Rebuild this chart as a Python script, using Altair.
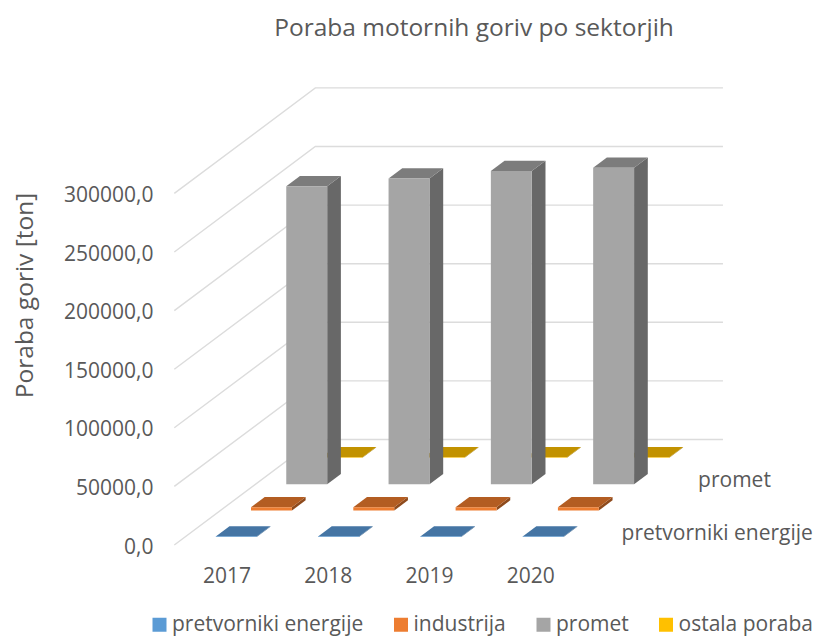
import altair as alt
import pandas as pd

# --- chart values -----------------------------------------------------------
years = [2017, 2018, 2019, 2020]
series = ["pretvorniki energije", "industrija", "promet", "ostala poraba"]
pretvorniki = [350, 350, 350, 350]
industrija = [2900, 2900, 2900, 2900]
promet = [254300, 260800, 267300, 269900]
ostala = [450, 450, 450, 450]
ticks = [0, 50000, 100000, 150000, 200000, 250000, 300000]
depth_labels = ["pretvorniki energije", "promet"]
values_by_series = [pretvorniki, industrija, promet, ostala]

front_cols = ["#5B9BD5", "#ED7D31", "#A5A5A5", "#FFC000"]
top_cols = ["#4575A4", "#B35D22", "#7C7C7C", "#C29200"]
side_cols = ["#3A6288", "#8E4A1C", "#686868", "#A07A00"]
FONT = "Open Sans"
TXT = "#595959"

# --- oblique 3D projection, expressed in scale units ------------------------
W, H = 806, 629
PX_CAT = 102.3
PX_TON = 58.6 / 50000
X0, Y0 = 174.3, 545
DEPTH_X = 141 / PX_CAT      # full depth of floor, in category units
DEPTH_Y = 105.5 / PX_TON    # full depth of floor, in tons
BAR_GAP, BAR_W = 0.30, 0.40
D_GAP, D_W = 0.0764, 0.0972
WALL = 3.985

x_scale = alt.Scale(domain=[(8 - X0) / PX_CAT, (814 - X0) / PX_CAT], nice=False, zero=False)
y_scale = alt.Scale(domain=[(Y0 - 637) / PX_TON, (Y0 - 8) / PX_TON], nice=False, zero=False)

x_axis = alt.Axis(
    values=[i * 0.99 + 0.51 for i in range(len(years))],
    labelExpr="'' + (%d + floor(datum.value))" % years[0],
    title=None, grid=False, domain=False, ticks=False, offset=-72,
    labelFont=FONT, labelFontSize=21, labelColor=TXT, labelPadding=0,
    labelFlush=False, labelOverlap=False,
)
y_axis = alt.Axis(
    values=ticks,
    labelExpr="format(datum.value, 'd') + ',0'",
    title="Poraba goriv [ton]", grid=False, domain=False, ticks=False, offset=-145,
    labelFont=FONT, labelFontSize=21, labelColor=TXT, labelPadding=0, labelOffset=2,
    titleFont=FONT, titleFontSize=24.5, titleColor=TXT, titleFontWeight="normal",
    titleAngle=270, titleX=-128, titleY=287, titleAlign="center", titleBaseline="middle",
    labelOverlap=False,
)


def px(c, d):
    return c + d * DEPTH_X


def py(v, d):
    return v + d * DEPTH_Y


X = lambda f="x": alt.X(f"{f}:Q", scale=x_scale, axis=x_axis)
Y = lambda f="y": alt.Y(f"{f}:Q", scale=y_scale, axis=y_axis)

# --- gridlines on the side and back walls -----------------------------------
grid_rows = []
for t in ticks:
    grid_rows += [
        {"t": t, "o": 0, "x": px(0, 0), "y": py(t, 0)},
        {"t": t, "o": 1, "x": px(0, 1), "y": py(t, 1)},
        {"t": t, "o": 2, "x": px(WALL, 1), "y": py(t, 1)},
    ]
grid = alt.Chart(pd.DataFrame(grid_rows)).mark_line(color="#DCDCDC", strokeWidth=1.4).encode(
    x=X(), y=Y(), detail="t:N", order="o:Q",
)

layers = [grid]

# --- bars, back to front ----------------------------------------------------
for s in reversed(range(len(series))):
    side, top, front = [], [], []
    for c, v in enumerate(values_by_series[s]):
        xl = c + BAR_GAP
        xr = xl + BAR_W
        d0 = D_GAP + s * 0.25
        d1 = d0 + D_W
        front.append({"series": series[s], "x": px(xl, d0), "x2": px(xr, d0),
                      "y": py(0, d0), "y2": py(v, d0)})
        side += [
            {"c": c, "x": px(xr, d0), "y": py(0, d0), "y2": py(v, d0)},
            {"c": c, "x": px(xr, d1), "y": py(0, d1), "y2": py(v, d1)},
        ]
        top += [
            {"c": c, "y": py(v, d0), "x": px(xl, d0), "x2": px(xr, d0)},
            {"c": c, "y": py(v, d1), "x": px(xl, d1), "x2": px(xr, d1)},
        ]
    layers.append(
        alt.Chart(pd.DataFrame(side)).mark_area(color=side_cols[s]).encode(
            x=X(), y=Y(), y2="y2:Q", detail="c:N")
    )
    layers.append(
        alt.Chart(pd.DataFrame(top)).mark_area(orient="horizontal", color=top_cols[s]).encode(
            y=Y(), x=X(), x2="x2:Q", detail="c:N")
    )
    layers.append(
        alt.Chart(pd.DataFrame(front)).mark_rect().encode(
            x=X(), x2="x2:Q", y=Y(), y2="y2:Q",
            color=alt.Color(
                "series:N",
                scale=alt.Scale(domain=series, range=front_cols),
                legend=alt.Legend(
                    title=None, orient="none", direction="horizontal", columns=4,
                    legendX=141, legendY=606, symbolType="square", symbolSize=196,
                    symbolStrokeWidth=0, labelFont=FONT, labelFontSize=21,
                    labelColor=TXT, labelOffset=2, columnPadding=26.5, labelLimit=300,
                ),
            ),
        )
    )

# --- depth-axis labels ------------------------------------------------------
for name, dx in zip(depth_labels, [22, 28]):
    d = (series.index(name) + 0.5) * 0.25
    lab = pd.DataFrame([{"label": name, "x": px(WALL, d), "y": py(0, d)}])
    layers.append(
        alt.Chart(lab).mark_text(
            align="left", baseline="middle", font=FONT, fontSize=21, color=TXT, dx=dx, dy=2
        ).encode(x=X(), y=Y(), text="label:N")
    )

chart = alt.layer(*layers).properties(
    width=W, height=H,
    autosize=alt.AutoSizeParams(type="none"),
    padding=0,
    title=alt.TitleParams(
        "Poraba motornih goriv po sektorjih", anchor="middle", frame="group",
        font=FONT, fontSize=24.5, color=TXT, fontWeight="normal", offset=-33, dx=63,
    ),
).configure_view(stroke=None)

chart.save("out.html", embed_options={"renderer": "svg", "actions": False})
